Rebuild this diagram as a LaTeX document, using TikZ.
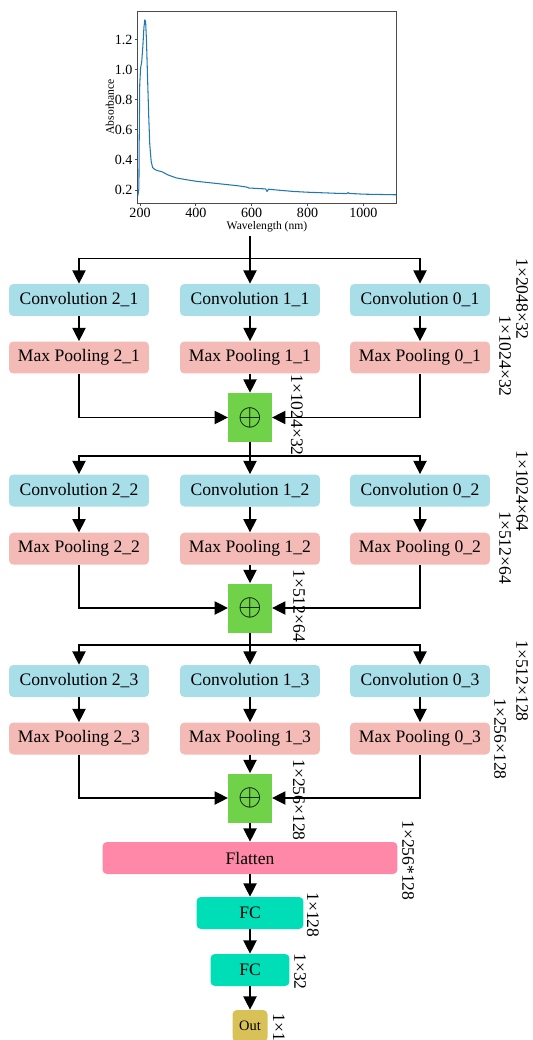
\documentclass[tikz,border=0pt]{standalone}
\usepackage{fontspec}
\setmainfont{Liberation Serif}
\usetikzlibrary{arrows.meta}
\definecolor{convblue}{HTML}{A8DEE8}
\definecolor{poolpink}{HTML}{F4BAB6}
\definecolor{sumgreen}{HTML}{70D248}
\definecolor{flatpink}{HTML}{FF88A8}
\definecolor{fcgreen}{HTML}{00DEB8}
\definecolor{outgold}{HTML}{D8C258}
\definecolor{specblue}{HTML}{1F77B4}
\begin{document}
\begin{tikzpicture}[x=0.02cm, y=-0.02cm,
    link/.style={line width=0.75pt},
    arr/.style={link, -{Triangle[length=7.5pt, width=7.5pt]}},
    box/.style={rounded corners=2.5pt, inner sep=0pt, minimum height=0.64cm, font=\fontsize{10}{12}\selectfont},
    convbox/.style={box, fill=convblue, minimum width=2.8cm},
    poolbox/.style={box, fill=poolpink, minimum width=2.8cm},
    sumbox/.style={fill=sumgreen, inner sep=0pt, minimum width=0.87cm, minimum height=0.98cm, font=\fontsize{17}{17}\selectfont},
    dimlabel/.style={rotate=-90, anchor=west, inner sep=0pt, font=\fontsize{10}{12}\selectfont},
    frame/.style={draw=black!70, line width=0.5pt},
    ticklabel/.style={inner sep=0pt, font=\fontsize{8}{9}\selectfont},
  ]
  \useasboundingbox (0,0) rectangle (533,1040);

  % absorbance spectrum
  \begin{scope}[shift={(1.684cm,-4.402cm)}, x=0.00558cm, y=3.01cm]
    \draw[frame] (191.8,0.1116) rectangle (1117.6,1.389);
    \foreach \t in {200,400,600,800,1000}
      \draw[frame] (\t,0.1116) -- ++(0,-1.8pt) node (xt\t) [ticklabel, anchor=north, yshift=-1pt] {\t};
    \foreach \v in {0.2,0.4,0.6,0.8,1.0,1.2}
      \draw[frame] (191.8,\v) -- ++(-1.8pt,0) node (yt\v) [ticklabel, anchor=east, xshift=-1pt] {\v};
    \draw[specblue, line width=0.6pt, line join=round]
      (192,0.16) -- (196,0.21) -- (197,0.5) -- (199,0.9) -- (202,1.01) -- (206,1.05)
      -- (210,1.15) -- (214,1.28) -- (217,1.33) -- (220,1.32) -- (223,1.2)
      -- (227,0.95) -- (231,0.7) -- (235,0.5) -- (240,0.39) -- (245,0.35)
      -- (250,0.34) -- (260,0.33) -- (280,0.32) -- (300,0.30) -- (330,0.28)
      -- (360,0.27) -- (400,0.258) -- (450,0.248) -- (500,0.238) -- (550,0.228)
      -- (580,0.22) -- (590,0.213) -- (650,0.207) -- (655,0.19) -- (660,0.205)
      -- (700,0.198) -- (750,0.19) -- (800,0.185) -- (900,0.178) -- (940,0.176)
      -- (945,0.182) -- (950,0.177) -- (1000,0.172) -- (1117,0.168);
  \end{scope}
  \node (ylab) [rotate=90, inner sep=0pt, font=\fontsize{6.6}{8}\selectfont] at (110,106.7) {Absorbance};
  \node (xlab) [inner sep=0pt, font=\fontsize{6.6}{8}\selectfont] at (267,226.7) {Wavelength (nm)};

  % block 1
  \coordinate (top) at (250,236);
  \coordinate (b1) at (250,258.7);
  \node (c21) [convbox] at (79,300) {Convolution 2\_1};
  \node (c11) [convbox] at (250,300) {Convolution 1\_1};
  \node (c01) [convbox] at (420,300) {Convolution 0\_1};
  \node (p21) [poolbox] at (79,357.5) {Max Pooling 2\_1};
  \node (p11) [poolbox] at (250,357.5) {Max Pooling 1\_1};
  \node (p01) [poolbox] at (420,357.5) {Max Pooling 0\_1};
  \node (s1) [sumbox] at (250,417.5) {$\oplus$};
  \node (d11) [dimlabel] at (522,258) {1×2048×32};
  \node (d12) [dimlabel] at (505,315) {1×1024×32};
  \node (d13) [dimlabel] at (297,374) {1×1024×32};
  \draw[link] (top) -- (b1);
  \draw[arr] (b1) -| (c21);
  \draw[arr] (b1) -- (c11);
  \draw[arr] (b1) -| (c01);
  \draw[arr] (c21) -- (p21);
  \draw[arr] (c11) -- (p11);
  \draw[arr] (c01) -- (p01);
  \draw[arr] (p21) |- (s1);
  \draw[arr] (p11) -- (s1);
  \draw[arr] (p01) |- (s1);

  % block 2
  \coordinate (b2) at (250,456);
  \node (c22) [convbox] at (79,490.5) {Convolution 2\_2};
  \node (c12) [convbox] at (250,490.5) {Convolution 1\_2};
  \node (c02) [convbox] at (420,490.5) {Convolution 0\_2};
  \node (p22) [poolbox] at (79,548.7) {Max Pooling 2\_2};
  \node (p12) [poolbox] at (250,548.7) {Max Pooling 1\_2};
  \node (p02) [poolbox] at (420,548.7) {Max Pooling 0\_2};
  \node (s2) [sumbox] at (250,608) {$\oplus$};
  \node (d21) [dimlabel] at (522,450) {1×1024×64};
  \node (d22) [dimlabel] at (505,511) {1×512×64};
  \node (d23) [dimlabel] at (299,569) {1×512×64};
  \draw[link] (s1) -- (b2);
  \draw[arr] (b2) -| (c22);
  \draw[arr] (b2) -- (c12);
  \draw[arr] (b2) -| (c02);
  \draw[arr] (c22) -- (p22);
  \draw[arr] (c12) -- (p12);
  \draw[arr] (c02) -- (p02);
  \draw[arr] (p22) |- (s2);
  \draw[arr] (p12) -- (s2);
  \draw[arr] (p02) |- (s2);

  % block 3
  \coordinate (b3) at (250,645);
  \node (c23) [convbox] at (79,681) {Convolution 2\_3};
  \node (c13) [convbox] at (250,681) {Convolution 1\_3};
  \node (c03) [convbox] at (420,681) {Convolution 0\_3};
  \node (p23) [poolbox] at (79,738.5) {Max Pooling 2\_3};
  \node (p13) [poolbox] at (250,738.5) {Max Pooling 1\_3};
  \node (p03) [poolbox] at (420,738.5) {Max Pooling 0\_3};
  \node (s3) [sumbox] at (250,798) {$\oplus$};
  \node (d31) [dimlabel] at (522,640) {1×512×128};
  \node (d32) [dimlabel] at (500,698) {1×256×128};
  \node (d33) [dimlabel] at (299,759) {1×256×128};
  \draw[link] (s2) -- (b3);
  \draw[arr] (b3) -| (c23);
  \draw[arr] (b3) -- (c13);
  \draw[arr] (b3) -| (c03);
  \draw[arr] (c23) -- (p23);
  \draw[arr] (c13) -- (p13);
  \draw[arr] (c03) -- (p03);
  \draw[arr] (p23) |- (s3);
  \draw[arr] (p13) -- (s3);
  \draw[arr] (p03) |- (s3);

  % head
  \node (flat) [box, fill=flatpink, minimum width=5.9cm] at (250,858) {Flatten};
  \node (fc1) [box, fill=fcgreen, minimum width=2.14cm] at (250,913) {FC};
  \node (fc2) [box, fill=fcgreen, minimum width=1.58cm] at (250,970) {FC};
  \node (out) [box, fill=outgold, minimum width=0.7cm, font=\fontsize{8.2}{10}\selectfont] at (250,1026) {Out};
  \node (d4) [dimlabel] at (408,820) {1×256*128};
  \node (d5) [dimlabel] at (313,892) {1×128};
  \node (d6) [dimlabel] at (300,953) {1×32};
  \node (d7) [dimlabel] at (279,1013) {1×1};
  \draw[arr] (s3) -- (flat);
  \draw[arr] (flat) -- (fc1);
  \draw[arr] (fc1) -- (fc2);
  \draw[arr] (fc2) -- (out);
\end{tikzpicture}
\end{document}
